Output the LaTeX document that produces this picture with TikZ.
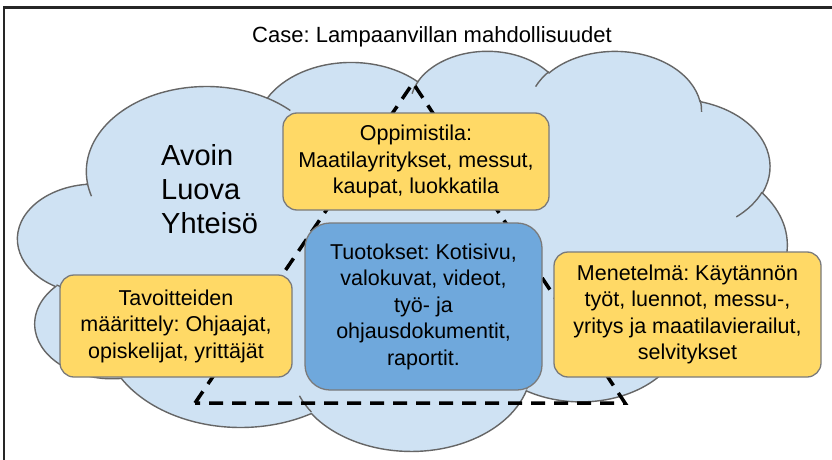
\documentclass[tikz,border=0pt]{standalone}
\usepackage{fontspec}
\setmainfont{Liberation Sans}
\frenchspacing
\definecolor{cloudfill}{HTML}{CFE2F3}
\definecolor{cloudline}{HTML}{666666}
\definecolor{boxyellow}{HTML}{FFD966}
\definecolor{boxblue}{HTML}{6FA8DC}
\definecolor{boxline}{HTML}{7A7A7A}

% Elliptical arc given DrawingML-style: radii, start angle and sweep measured
% as seen from the ellipse centre; converted to TikZ parameter angles.
\newcommand\cldang[4]{%
  \pgfmathsetmacro\cldSa{atan2((#1)*sin(#3),(#2)*cos(#3))}%
  \pgfmathsetmacro\cldEa{atan2((#1)*sin((#3)+(#4)),(#2)*cos((#3)+(#4)))}%
  \pgfmathsetmacro\cldEa{\cldEa+360*and(#4>0,\cldEa<\cldSa)-360*and(#4<0,\cldEa>\cldSa)}%
  \xdef\cldS{\cldSa}\xdef\cldE{\cldEa}}
\newcommand\cldarc[4]{\pgfextra{\cldang{#1}{#2}{#3}{#4}} arc[start angle=\cldS, end angle=\cldE, x radius=#1, y radius=#2]}

\begin{document}
\begin{tikzpicture}[x=1pt, y=1pt, yscale=-1,
  cloudedge/.style={draw=cloudline, line width=1.4pt},
  boxtext/.style={font=\fontsize{21.5}{26.5}\selectfont, align=center, inner sep=0pt},
  ybox/.style={boxtext, draw=boxline, line width=1.3pt, fill=boxyellow, rounded corners=14pt},
  bbox/.style={boxtext, draw=boxline, line width=1.3pt, fill=boxblue, rounded corners=25pt},
  tridash/.style={line width=3.5pt, dash pattern=on 14pt off 9pt, black}]
\useasboundingbox (0,0) rectangle (832,460);
\clip (0,0) rectangle (832,460);
\fill[white] (0,0) rectangle (832,460);

% cloud outline
\begin{scope}[shift={(18,50)}, xscale=0.178009, yscale=0.0925926]
  \path[cloudedge, fill=cloudfill] (390,1437)
    \cldarc{675.3}{919.0}{-190.48748}{123.78053}
    \cldarc{533.3}{726.7}{-144.10238}{89.94523}
    \cldarc{436.5}{594.5}{-145.80792}{99.72302}
    \cldarc{485.7}{659.5}{-130.98607}{117.24173}
    \cldarc{533.3}{727.3}{-78.70888}{109.02692}
    \cldarc{677.5}{922.0}{-46.26725}{130.269}
    \cldarc{578.5}{786.7}{0.62502}{114.03333}
    \cldarc{675.2}{921.5}{22.4516}{115.17255}
    \cldarc{772.0}{1054.3}{66.24263}{75.71102}
    \cldarc{436.0}{591.8}{-274.94208}{146.73557}
    \cldarc{434.5}{594.5}{-246.8285}{152.51885}
    -- cycle;
  % inner folds of the cloud
  \draw[cloudedge]
    (469.3,2617.7) \cldarc{434.5}{594.5}{86.742}{26.4295}
    (692.8,3489.9) \cldarc{436.0}{591.8}{73.6105}{11.4475}
    (1647.8,3909.0) \cldarc{675.2}{921.5}{137.6242}{14.0811}
    (2882.7,3475.1) \cldarc{675.2}{921.5}{6.4533}{15.9984}
    (3412.9,2295.4) \cldarc{578.5}{786.7}{-70.2924}{70.9174}
    (4179.8,1535.4) \cldarc{533.3}{727.3}{30.3180}{27.7515}
    (3832.4,542.6) \cldarc{485.7}{659.5}{-13.7443}{14.8589}
    (2907.8,395.2) \cldarc{485.7}{659.5}{-149.1815}{18.1954}
    (2214.1,472.0) \cldarc{436.5}{594.5}{-163.4943}{17.6864}
    (1400.0,519.2) \cldarc{675.3}{919.0}{-66.7070}{12.3194}
    (412.7,1578.9) \cldarc{675.3}{919.0}{157.6544}{11.8582};
\end{scope}

% dashed triangle
\coordinate (apex) at (413,83);
\coordinate (bl) at (195,403);
\coordinate (br) at (625,403);
\draw[tridash] (bl) -- (apex) -- (br) -- cycle;

\node[anchor=north west, align=left, inner sep=0pt,
  font=\fontsize{29}{34}\selectfont] (motto) at (161,144) {Avoin\\Luova\\Yhteisö};

\node[ybox, minimum width=266pt, minimum height=97pt] (opp) at (416,161.5)
  {Oppimistila:\\Maatilayritykset, messut,\\kaupat, luokkatila};
\node[bbox, minimum width=237pt, minimum height=167pt] (tuo) at (423.5,306.5)
  {Tuotokset: Kotisivu,\\valokuvat, videot,\\työ- ja\\ohjausdokumentit,\\raportit.};
\node[ybox, minimum width=232pt, minimum height=102pt] (tav) at (176,326)
  {Tavoitteiden\\määrittely: Ohjaajat,\\opiskelijat, yrittäjät};
\node[ybox, minimum width=267pt, minimum height=125pt] (men) at (687.5,314.5)
  {Menetelmä: Käytännön\\työt, luennot, messu-,\\yritys ja maatilavierailut,\\selvitykset};

\node[anchor=base, inner sep=0pt, font=\fontsize{22}{26}\selectfont] (title) at (432,42.3)
  {Case: Lampaanvillan mahdollisuudet};

% frame, open towards the lower right
\coordinate (fa) at (4,470);
\coordinate (fb) at (4,7.5);
\coordinate (fc) at (845,7.5);
\draw[line width=2.2pt, black!85] (fa) -- (fb) -- (fc);
\end{tikzpicture}
\end{document}
